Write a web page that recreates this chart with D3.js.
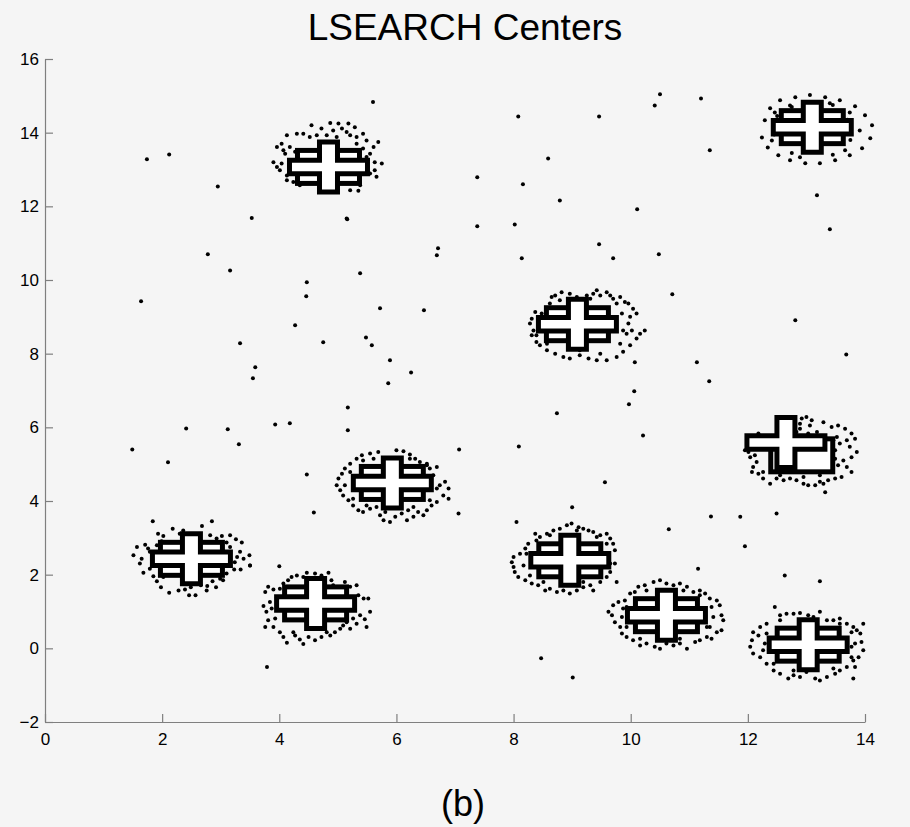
<!DOCTYPE html>
<html>
<head>
<meta charset="utf-8">
<script src="https://cdn.jsdelivr.net/npm/d3@7"></script>
<style>
  html, body { margin: 0; padding: 0; background: #f5f5f5; }
  #chart-container { width: 910px; height: 827px; }
</style>
</head>
<body>
<div id="chart-container"></div>
<script>
/* global d3 */

const titleText = 'LSEARCH Centers'
const captionText = '(b)'

const xTicks = [0, 2, 4, 6, 8, 10, 12, 14]
const yTicks = [-2, 0, 2, 4, 6, 8, 10, 12, 14, 16]

// scattered points between the groups
const outliers = [
  [1.74, 13.28], [2.12, 13.41], [2.95, 12.54], [5.6, 14.83], [1.64, 9.42],
  [2.78, 10.7], [3.16, 10.26], [3.53, 11.68], [4.47, 9.94], [4.46, 9.56],
  [4.27, 8.77], [3.33, 8.28], [4.75, 8.31], [3.59, 7.63], [3.55, 7.33],
  [5.16, 11.65], [5.38, 10.18], [5.72, 9.23], [5.48, 8.44], [5.58, 8.23],
  [5.89, 7.82], [5.86, 7.2], [6.25, 7.49], [6.47, 9.18], [6.71, 10.86],
  [6.69, 10.67], [7.38, 12.79], [7.38, 11.46], [8.02, 11.51], [8.14, 10.59],
  [8.08, 14.44], [8.16, 12.6], [8.59, 13.3], [8.79, 12.16], [9.46, 14.44],
  [9.46, 10.97], [9.7, 10.59], [10.11, 11.92], [10.48, 10.7], [10.71, 9.61],
  [10.41, 14.74], [10.5, 15.04], [11.2, 14.93], [11.35, 13.52], [13.18, 12.3],
  [13.4, 11.38], [12.81, 8.91], [13.68, 7.98], [11.13, 7.77], [11.34, 7.25],
  [10.06, 6.98], [9.97, 6.63], [10.21, 5.78], [8.74, 6.38], [8.09, 5.48],
  [9.56, 4.51], [9.0, 3.83], [10.65, 3.23], [11.37, 3.58], [11.95, 2.77],
  [12.49, 3.66], [11.87, 3.57], [12.63, 1.98], [13.23, 1.82], [11.15, 2.16],
  [8.47, -0.27], [9.01, -0.79], [3.79, -0.51], [1.49, 5.4], [2.1, 5.05],
  [2.41, 5.97], [3.12, 5.95], [3.31, 5.54], [3.93, 6.08], [4.18, 6.11],
  [4.47, 4.72], [5.17, 6.54], [5.17, 5.92], [7.07, 5.4], [7.06, 3.66],
  [4.0, 2.23], [3.5, 2.25], [4.59, 3.69], [8.05, 3.43], [5.15, 11.67],
]

const groupA = [
  [1.84, 3.45], [2.85, 3.45], [2.18, 3.25], [2.36, 3.2], [2.68, 3.32], [1.93, 3.11],
  [2.02, 3.05], [2.82, 3.07], [2.93, 2.98], [3.16, 3.07], [3.26, 2.96], [3.36, 2.87],
  [3.1, 2.87], [1.57, 2.75], [1.71, 2.81], [1.76, 2.71], [1.51, 2.53], [1.65, 2.43],
  [1.62, 2.3], [1.79, 2.16], [1.68, 2.05], [1.85, 1.96], [1.91, 1.82], [1.98, 1.66],
  [2.12, 1.51], [2.46, 1.44], [2.57, 1.44], [2.49, 1.66], [2.66, 1.71], [2.77, 1.69],
  [2.86, 1.82], [2.92, 1.66], [3.04, 1.85], [3.15, 2.25], [3.23, 2.14], [3.34, 2.14],
  [3.39, 2.43], [3.49, 2.53], [3.5, 2.25], [3.33, 2.62], [3.28, 2.48], [2.62, 1.76],
  [1.99, 2.91], [2.3, 3.11], [3.02, 3.05], [3.16, 2.75], [3.24, 2.34], [3.1, 2.03],
  [2.99, 1.89], [2.02, 1.94], [1.85, 2.25], [1.79, 2.62], [2.39, 1.6], [2.76, 1.57],
  [2.28, 1.57], [1.91, 2.8],
]

const groupB = [
  [4.21, 1.94], [4.15, 1.85], [4.3, 1.98], [4.47, 2.05], [4.61, 2.03], [4.72, 1.98],
  [4.84, 2.05], [4.89, 1.85], [4.78, 1.85], [3.81, 1.67], [3.76, 1.53], [3.9, 1.6],
  [3.96, 1.39], [3.84, 1.26], [3.73, 1.15], [3.78, 0.99], [3.81, 0.76], [3.76, 0.58],
  [3.9, 0.58], [4.01, 0.44], [4.07, 0.31], [4.13, 0.15], [4.27, 0.35], [4.35, 0.24],
  [4.41, 0.12], [4.5, 0.31], [4.61, 0.22], [4.72, 0.31], [4.87, 0.35], [4.95, 0.44],
  [5.04, 0.53], [5.15, 0.71], [5.21, 0.53], [5.32, 0.67], [5.38, 0.9], [5.46, 0.79],
  [5.49, 0.58], [5.35, 1.44], [5.44, 1.35], [5.52, 1.35], [5.21, 1.67], [5.15, 1.51],
  [5.32, 1.71], [5.55, 0.99], [5.26, 1.08],
  [4.07, 1.76], [4.01, 1.62], [5.12, 1.8], [5.21, 1.35], [5.26, 0.81], [5.09, 0.62],
  [3.93, 0.81], [3.87, 1.08], [4.24, 0.44], [4.81, 0.44], [4.41, 1.94], [4.92, 1.71],
]

const groupC = [
  [5.32, 5.15], [5.41, 5.24], [5.55, 5.29], [5.69, 5.33], [6.0, 5.38], [6.12, 5.35],
  [6.23, 5.26], [6.32, 5.15], [6.4, 5.06], [6.52, 5.01], [6.57, 4.88], [6.69, 4.92],
  [6.63, 4.7], [5.21, 5.01], [5.12, 4.88], [5.07, 4.74], [5.01, 4.61], [4.98, 4.43],
  [5.04, 4.29], [5.09, 4.15], [5.18, 4.02], [5.26, 3.88], [5.35, 3.75], [5.43, 3.7],
  [5.55, 3.79], [5.66, 3.84], [5.72, 3.61], [5.81, 3.7], [5.89, 3.43], [5.98, 3.57],
  [6.09, 3.66], [6.2, 3.75], [6.29, 3.57], [6.37, 3.7], [6.52, 3.75], [6.6, 3.88],
  [6.69, 3.97], [6.8, 4.15], [6.89, 4.34], [6.83, 4.52], [6.89, 4.06], [6.74, 4.43],
  [5.78, 3.48], [6.18, 3.48], [6.46, 3.61],
  [5.43, 5.1], [5.21, 4.79], [5.12, 4.43], [5.26, 4.06], [5.49, 3.88], [6.29, 3.84],
  [6.57, 4.02], [6.69, 4.34], [6.52, 4.97], [6.23, 5.15], [5.61, 5.15],
]

const groupD = [
  [8.37, 3.11], [8.45, 3.02], [8.57, 3.11], [8.68, 3.2], [8.79, 3.25], [8.91, 3.34],
  [8.99, 3.39], [9.11, 3.29], [9.19, 3.25], [9.28, 3.2], [9.36, 3.16], [9.48, 3.07],
  [9.59, 3.11], [9.65, 2.98], [9.7, 2.84], [9.73, 2.66], [8.25, 2.84], [8.2, 2.71],
  [8.11, 2.57], [8.0, 2.48], [7.97, 2.34], [8.0, 2.21], [8.02, 2.07], [8.08, 1.94],
  [8.2, 1.85], [8.31, 1.76], [8.42, 1.71], [8.54, 1.57], [8.62, 1.62], [8.74, 1.53],
  [8.85, 1.57], [8.96, 1.49], [9.08, 1.57], [9.19, 1.66], [9.31, 1.71], [9.48, 1.8],
  [9.59, 1.94], [9.65, 2.07], [9.76, 1.8], [9.73, 2.3], [9.36, 1.57],
  [8.39, 2.93], [8.22, 2.57], [8.17, 2.25], [8.28, 1.98], [8.51, 1.8], [9.19, 1.8],
  [9.48, 1.98], [9.65, 2.3], [9.59, 2.84], [9.42, 3.02], [9.08, 3.2], [8.62, 3.07],
]

const groupE = [
  [4.55, 14.2], [4.87, 14.26], [5.01, 14.25], [5.18, 14.25], [5.29, 14.15], [4.72, 14.11],
  [4.92, 14.06], [5.07, 14.11], [4.3, 13.97], [4.41, 13.97], [4.13, 13.93], [4.04, 13.7],
  [3.96, 13.61], [4.07, 13.52], [4.18, 13.61], [4.27, 13.48], [3.9, 13.2], [3.96, 13.07],
  [4.01, 12.98], [4.13, 12.71], [4.24, 12.66], [5.21, 13.93], [5.32, 13.88], [5.43, 13.97],
  [5.49, 13.79], [5.61, 13.61], [5.69, 13.75], [5.55, 13.43], [5.49, 13.34], [5.75, 13.16],
  [5.63, 12.98], [5.66, 12.8], [5.46, 12.89], [5.21, 12.44], [5.35, 12.42], [4.7, 12.39],
  [4.87, 12.39], [4.64, 13.93], [4.81, 13.93], [5.15, 14.02],
  [4.52, 13.88], [4.98, 13.88], [4.1, 13.43], [4.04, 13.16], [4.13, 12.84], [4.35, 12.57],
  [5.38, 12.57], [5.55, 12.89], [5.63, 13.2], [5.43, 13.57], [5.32, 13.7],
]

const groupF = [
  [8.65, 9.54], [8.71, 9.58], [8.82, 9.67], [8.96, 9.63], [9.08, 9.54], [9.25, 9.58],
  [9.36, 9.63], [9.42, 9.72], [9.48, 9.58], [9.59, 9.67], [9.65, 9.58], [9.7, 9.49],
  [9.82, 9.54], [9.9, 9.4], [9.96, 9.36], [10.04, 9.22], [10.1, 9.09], [9.99, 9.0],
  [9.96, 8.82], [10.02, 8.63], [9.93, 8.54], [10.16, 8.54], [10.24, 8.63], [10.1, 8.41],
  [9.99, 8.23], [9.87, 8.05], [10.07, 7.77], [9.76, 7.91], [9.59, 7.82], [9.42, 7.82],
  [9.28, 7.87], [9.13, 7.96], [8.96, 7.87], [8.85, 7.91], [8.71, 8.0], [8.57, 8.09],
  [8.45, 8.23], [8.39, 8.32], [8.31, 8.5], [8.34, 8.63], [8.28, 8.82], [8.31, 8.95],
  [8.37, 9.13], [8.48, 9.09], [8.57, 9.13], [8.62, 9.36],
  [8.45, 8.95], [8.39, 8.5], [8.57, 8.27], [9.13, 8.09], [9.48, 8.0], [9.82, 8.27],
  [9.87, 8.63], [9.85, 9.09], [9.76, 9.36], [8.79, 9.45], [9.31, 9.49],
]

const groupG = [
  [12.92, 6.24], [13.0, 6.28], [13.09, 6.19], [13.06, 6.05], [12.89, 5.96], [12.83, 5.87],
  [13.03, 5.83], [13.29, 6.14], [13.43, 6.01], [13.54, 6.05], [13.66, 5.96], [13.77, 5.83],
  [13.83, 5.69], [13.69, 5.65], [13.57, 5.56], [13.52, 5.74], [13.74, 5.47], [13.86, 5.33],
  [13.77, 5.19], [13.63, 5.1], [13.49, 5.15], [13.54, 4.97], [13.69, 4.92], [13.77, 4.79],
  [13.6, 4.65], [13.49, 4.61], [13.37, 4.56], [13.29, 4.47], [13.23, 4.52], [13.15, 4.43],
  [13.03, 4.43], [12.95, 4.47], [12.83, 4.56], [12.72, 4.61], [12.61, 4.56], [12.49, 4.61],
  [12.38, 4.47], [12.26, 4.61], [12.18, 4.74], [12.07, 4.79], [12.15, 5.06], [12.12, 5.24],
  [12.01, 5.33], [11.95, 5.38], [12.18, 5.83], [13.32, 4.24],
  [13.46, 5.65], [13.49, 5.38], [13.43, 4.92], [13.23, 4.7], [12.95, 4.65], [12.55, 4.7],
  [12.26, 4.79], [12.09, 4.92], [12.04, 5.19], [13.18, 5.87], [12.89, 6.1],
]

const groupH = [
  [10.13, 1.67], [10.24, 1.71], [10.39, 1.8], [10.5, 1.85], [10.61, 1.76], [10.73, 1.71],
  [10.84, 1.76], [10.96, 1.67], [11.07, 1.53], [11.18, 1.57], [11.27, 1.49], [11.35, 1.35],
  [11.47, 1.3], [11.52, 1.17], [11.55, 0.9], [11.58, 0.76], [11.55, 0.49], [11.47, 0.44],
  [11.38, 0.26], [11.3, 0.31], [11.18, 0.22], [11.1, 0.17], [10.96, -0.01], [10.84, 0.13],
  [10.73, 0.08], [10.61, 0.13], [10.5, -0.01], [10.41, 0.04], [10.27, 0.13], [10.16, 0.08],
  [10.04, 0.22], [9.93, 0.31], [9.85, 0.4], [9.82, 0.58], [9.73, 0.71], [9.68, 0.9],
  [9.62, 0.99], [9.7, 1.17], [9.79, 1.26], [9.9, 1.3], [9.99, 1.49], [10.07, 1.53],
  [9.87, 1.08], [11.13, 0.53], [11.3, 0.58],
  [9.93, 1.12], [9.85, 0.85], [9.93, 0.58], [10.16, 0.26], [10.84, 0.26], [11.35, 0.58],
  [11.41, 0.85], [11.38, 1.12], [11.18, 1.44], [10.27, 1.57], [10.9, 1.57],
]

const groupI = [
  [12.46, 1.12], [12.55, 0.9], [12.66, 0.94], [12.78, 0.94], [12.89, 0.96], [13.03, 0.9],
  [13.12, 0.85], [13.23, 0.99], [13.35, 0.76], [13.46, 0.76], [13.57, 0.81], [13.69, 0.67],
  [13.8, 0.58], [13.86, 0.49], [13.97, 0.67], [13.92, 0.4], [13.94, 0.17], [13.97, -0.05],
  [13.89, -0.24], [13.8, -0.33], [13.83, -0.51], [13.69, -0.51], [13.57, -0.6], [13.49, -0.69],
  [13.35, -0.78], [13.23, -0.87], [13.15, -0.82], [13.0, -0.64], [12.89, -0.78], [12.78, -0.73],
  [12.69, -0.82], [12.55, -0.69], [12.44, -0.6], [12.32, -0.42], [12.21, -0.24], [12.09, -0.14],
  [12.04, 0.04], [12.07, 0.22], [12.09, 0.44], [12.21, 0.58], [12.32, 0.67], [12.18, 0.35],
  [12.29, 0.13], [13.8, -0.82], [13.77, 0.04],
  [12.32, 0.4], [12.26, -0.05], [12.44, -0.42], [12.78, -0.6], [13.46, -0.55], [13.77, -0.24],
  [13.83, 0.13], [13.77, 0.44], [13.57, 0.67], [12.55, 0.76],
]

const groupJ = [
  [12.38, 14.66], [12.55, 14.88], [12.81, 14.96], [13.06, 15.02], [13.32, 14.96], [13.57, 14.88],
  [13.83, 14.72], [14.0, 14.47], [14.12, 14.2], [14.09, 13.85], [13.95, 13.58], [13.74, 13.39],
  [13.49, 13.25], [13.23, 13.17], [12.98, 13.17], [12.72, 13.25], [12.52, 13.39], [12.34, 13.6],
  [12.24, 13.87], [12.29, 14.34], [12.46, 14.55], [13.74, 14.55], [13.91, 14.06], [12.41, 13.79],
  [13.66, 13.52], [12.89, 13.33], [13.4, 14.8], [12.72, 14.74],
  [12.5, 14.45], [12.45, 13.95], [13.7, 14.35], [13.75, 13.8], [12.75, 13.45], [13.45, 13.4],
  [12.75, 14.7], [13.45, 14.75],
]

// found centres: cross mark and the box mark drawn under it
const crossCenters = [
  [2.5, 2.43], [4.62, 1.22], [5.93, 4.49], [8.96, 2.39], [4.84, 13.07],
  [9.09, 8.8], [12.65, 5.59], [10.61, 0.9], [13.03, 0.1], [13.1, 14.15],
]
const boxCenters = [
  [2.5, 2.43], [4.62, 1.22], [5.93, 4.49], [8.96, 2.39], [4.84, 13.07],
  [9.09, 8.8], [12.92, 5.24], [10.61, 0.9], [13.03, 0.1], [13.1, 14.15],
]

// Options:
const width = 910
const height = 827
const plotLeft = 45
const plotRight = 865
const plotTop = 59
const plotBottom = 722
const bgColor = '#f5f5f5'
const axisColor = '#7f7f7f'
const fontFamily = "'Liberation Sans', Arial, Helvetica, sans-serif"

const armW = 78
const armH = 13.5
const stemW = 18
const stemH = 50
const boxW = 62
const boxH = 33

const svg = d3
  .select('#chart-container')
  .append('svg')
  .attr('width', width)
  .attr('height', height)
  .style('background', bgColor)
  .attr('font-family', fontFamily)

const x = d3.scaleLinear().domain([0, 14]).range([plotLeft, plotRight])
const y = d3.scaleLinear().domain([-2, 16]).range([plotBottom, plotTop])

// axes
const xAxis = svg
  .append('g')
  .attr('transform', `translate(0, ${plotBottom})`)
  .call(
    d3.axisBottom(x).tickValues(xTicks).tickSizeInner(-8).tickSizeOuter(0).tickPadding(11),
  )
const yAxis = svg
  .append('g')
  .attr('transform', `translate(${plotLeft}, 0)`)
  .call(
    d3.axisLeft(y).tickValues(yTicks).tickSizeInner(-8).tickSizeOuter(0).tickPadding(6),
  )

;[xAxis, yAxis].forEach(g => {
  g.selectAll('path, line').attr('stroke', axisColor).attr('stroke-width', 1.2)
  g.selectAll('text')
    .attr('fill', '#000')
    .attr('font-size', 17)
    .attr('font-family', fontFamily)
})

// points
const allPoints = [
  ...outliers,
  ...groupA, ...groupB, ...groupC, ...groupD, ...groupE,
  ...groupF, ...groupG, ...groupH, ...groupI, ...groupJ,
]

svg
  .append('g')
  .selectAll('circle')
  .data(allPoints)
  .join('circle')
  .attr('cx', d => x(d[0]))
  .attr('cy', d => y(d[1]))
  .attr('r', 2)
  .attr('fill', '#000')

// centre marks
const crossPath = (cx, cy) => {
  const a = armW / 2
  const b = armH / 2
  const c = stemW / 2
  const e = stemH / 2
  return `M${cx - c},${cy - e}H${cx + c}V${cy - b}H${cx + a}V${cy + b}H${cx + c}` +
    `V${cy + e}H${cx - c}V${cy + b}H${cx - a}V${cy - b}H${cx - c}Z`
}

const marks = svg.append('g')

marks
  .selectAll('rect')
  .data(boxCenters)
  .join('rect')
  .attr('x', d => x(d[0]) - boxW / 2)
  .attr('y', d => y(d[1]) - boxH / 2)
  .attr('width', boxW)
  .attr('height', boxH)
  .attr('fill', '#fff')
  .attr('stroke', '#000')
  .attr('stroke-width', 5)

marks
  .selectAll('path')
  .data(crossCenters)
  .join('path')
  .attr('d', d => crossPath(x(d[0]), y(d[1])))
  .attr('fill', '#fff')
  .attr('stroke', '#000')
  .attr('stroke-width', 5)
  .attr('stroke-linejoin', 'miter')

// title and caption
svg
  .append('text')
  .attr('x', 465)
  .attr('y', 40)
  .attr('text-anchor', 'middle')
  .attr('font-size', 37)
  .attr('fill', '#000')
  .text(titleText)

svg
  .append('text')
  .attr('x', 463)
  .attr('y', 816)
  .attr('text-anchor', 'middle')
  .attr('font-size', 36)
  .attr('fill', '#000')
  .text(captionText)
</script>
</body>
</html>
